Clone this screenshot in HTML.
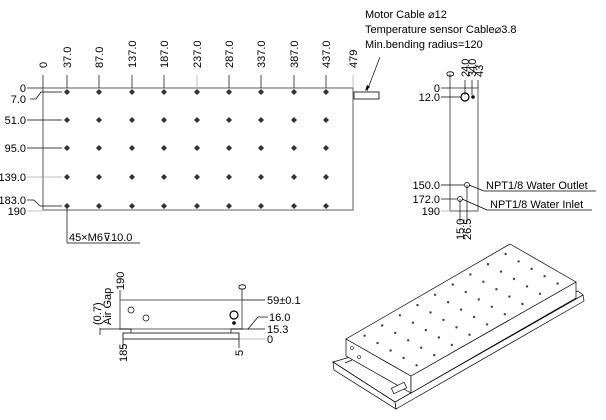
<!DOCTYPE html>
<html><head><meta charset="utf-8"><style>
body{margin:0;background:#fff}
svg{display:block}
text{font-family:"Liberation Sans",sans-serif;font-size:11px;fill:#000}
.k{stroke:#000;stroke-width:0.7;fill:none}
</style></head><body>
<svg width="606" height="420" viewBox="0 0 606 420" xmlns="http://www.w3.org/2000/svg">
<defs>
<g id="dcol" fill="#333">
<path d="M0,89 L3,92 L0,95 L-3,92Z"/>
<path d="M0,117 L3,120 L0,123 L-3,120Z"/>
<path d="M0,145 L3,148 L0,151 L-3,148Z"/>
<path d="M0,174 L3,177 L0,180 L-3,177Z"/>
<path d="M0,203 L3,206 L0,209 L-3,206Z"/>
</g>
<g id="irow" fill="#444">
<circle cx="358.1" cy="332.0" r="1.2"/><circle cx="375.7" cy="321.8" r="1.2"/><circle cx="393.4" cy="311.6" r="1.2"/><circle cx="411.0" cy="301.4" r="1.2"/><circle cx="428.6" cy="291.1" r="1.2"/><circle cx="446.3" cy="280.9" r="1.2"/><circle cx="463.9" cy="270.7" r="1.2"/><circle cx="481.5" cy="260.5" r="1.2"/><circle cx="499.1" cy="250.3" r="1.2"/>
</g>
</defs>
<!-- Top view -->
<rect x="43" y="88" width="310" height="122" fill="none" stroke="#777" stroke-width="1.2"/>
<g class="k">
<line x1="43" y1="75" x2="43" y2="88"/>
<line x1="353" y1="75" x2="353" y2="88" stroke="#aaa"/>
<line x1="27" y1="88" x2="43" y2="88"/>
<line x1="30" y1="99" x2="36" y2="99"/><line x1="36" y1="99" x2="41" y2="92"/><line x1="41" y1="92" x2="62" y2="92"/>
<line x1="27" y1="120" x2="62" y2="120"/>
<line x1="27" y1="148" x2="62" y2="148"/>
<line x1="27" y1="177" x2="62" y2="177" stroke="#aaa"/>
<line x1="27" y1="200" x2="34" y2="200"/><line x1="34" y1="200" x2="40" y2="206"/><line x1="40" y1="206" x2="62" y2="206"/>
<line x1="27" y1="211" x2="42" y2="211" stroke="#aaa"/>
<line x1="67" y1="206" x2="67" y2="243"/><line x1="67" y1="243" x2="140" y2="243"/>
<line x1="67" y1="75" x2="67" y2="88"/><line x1="99" y1="75" x2="99" y2="88"/><line x1="132" y1="75" x2="132" y2="88"/><line x1="164" y1="75" x2="164" y2="88"/><line x1="197" y1="75" x2="197" y2="88" stroke="#aaa"/><line x1="229" y1="75" x2="229" y2="88"/><line x1="261" y1="75" x2="261" y2="88"/><line x1="294" y1="75" x2="294" y2="88"/><line x1="326" y1="75" x2="326" y2="88"/>
</g>
<use href="#dcol" x="67"/><use href="#dcol" x="99"/><use href="#dcol" x="132"/><use href="#dcol" x="164"/><use href="#dcol" x="197"/><use href="#dcol" x="229"/><use href="#dcol" x="261"/><use href="#dcol" x="294"/><use href="#dcol" x="326"/>
<g font-size="11">
<text transform="translate(47,68) rotate(-90)">0</text>
<text transform="translate(71,68) rotate(-90)">37.0</text>
<text transform="translate(103,68) rotate(-90)">87.0</text>
<text transform="translate(136,68) rotate(-90)">137.0</text>
<text transform="translate(168,68) rotate(-90)">187.0</text>
<text transform="translate(201,68) rotate(-90)">237.0</text>
<text transform="translate(233,68) rotate(-90)">287.0</text>
<text transform="translate(265,68) rotate(-90)">337.0</text>
<text transform="translate(298,68) rotate(-90)">387.0</text>
<text transform="translate(330,68) rotate(-90)">437.0</text>
<text transform="translate(357,68) rotate(-90)">479</text>
<text x="26" y="92" text-anchor="end">0</text>
<text x="26" y="103" text-anchor="end">7.0</text>
<text x="26" y="124" text-anchor="end">51.0</text>
<text x="26" y="152" text-anchor="end">95.0</text>
<text x="26" y="181" text-anchor="end">139.0</text>
<text x="26" y="204" text-anchor="end">183.0</text>
<text x="26" y="215" text-anchor="end">190</text>
<text x="69" y="241">45×M6⊽10.0</text>
<text x="365" y="18">Motor Cable ⌀12</text>
<text x="365" y="33">Temperature sensor Cable⌀3.8</text>
<text x="365" y="48">Min.bending radius=120</text>
</g>
<rect x="354" y="92" width="25" height="7" fill="none" stroke="#000" stroke-width="0.8"/>
<line class="k" x1="380" y1="57" x2="367" y2="91"/>
<path d="M365,91 L367,85 L370,87Z" fill="#000"/>
<!-- side view -->
<rect x="450" y="88" width="28" height="123" fill="none" stroke="#777" stroke-width="1.2"/>
<g class="k">
<line x1="450" y1="74" x2="450" y2="88"/><line x1="465" y1="80" x2="465" y2="95"/><line x1="472" y1="80" x2="472" y2="95"/><line x1="478" y1="80" x2="478" y2="88"/>
<line x1="441" y1="88" x2="450" y2="88"/><line x1="441" y1="97" x2="461" y2="97"/>
<line x1="441" y1="185" x2="464" y2="185"/><line x1="441" y1="199" x2="457" y2="199"/><line x1="441" y1="211" x2="450" y2="211" stroke="#aaa"/>
<line x1="460" y1="199" x2="460" y2="222"/><line x1="467" y1="185" x2="467" y2="222"/>
<line x1="469" y1="185" x2="484" y2="191"/><line x1="484" y1="191" x2="596" y2="191"/>
<line x1="462" y1="199" x2="487" y2="210"/><line x1="487" y1="210" x2="592" y2="210"/>
</g>
<circle cx="465" cy="97" r="4" fill="none" stroke="#000" stroke-width="1.2"/>
<circle cx="473" cy="97" r="1.8" fill="#000"/>
<circle cx="467" cy="185" r="2.5" fill="none" stroke="#000" stroke-width="0.7"/>
<circle cx="460" cy="199" r="2.5" fill="none" stroke="#000" stroke-width="0.7"/>
<g font-size="11">
<text transform="translate(454,77) rotate(-90)">0</text>
<text transform="translate(469,77) rotate(-90)" letter-spacing="-1">24.0</text>
<text transform="translate(476,77) rotate(-90)" letter-spacing="-1">34.0</text>
<text transform="translate(483,77) rotate(-90)">43</text>
<text x="440" y="92" text-anchor="end">0</text>
<text x="440" y="101" text-anchor="end">12.0</text>
<text x="440" y="189" text-anchor="end">150.0</text>
<text x="440" y="203" text-anchor="end">172.0</text>
<text x="440" y="215" text-anchor="end">190</text>
<text transform="translate(464,240) rotate(-90)">15.0</text>
<text transform="translate(471,240) rotate(-90)">26.5</text>
<text x="486" y="189">NPT1/8 Water Outlet</text>
<text x="490" y="208">NPT1/8 Water Inlet</text>
</g>
<!-- front view -->
<rect x="120" y="300" width="122" height="29" fill="none" stroke="#777" stroke-width="1.2"/>
<rect x="123" y="333" width="116" height="6" fill="none" stroke="#000" stroke-width="0.8"/>
<g class="k">
<path d="M120,329 L131,329 L131,333"/><path d="M231,333 L231,329 L242,329"/>
<line x1="120" y1="290" x2="120" y2="300"/><line x1="242" y1="290" x2="242" y2="300"/>
<line x1="242" y1="300" x2="265" y2="300"/>
<line x1="248" y1="329" x2="258" y2="317"/><line x1="258" y1="317" x2="268" y2="317"/>
<line x1="242" y1="329" x2="265" y2="329"/>
<line x1="239" y1="339" x2="265" y2="339" stroke="#aaa"/>
<line x1="123" y1="339" x2="123" y2="348"/><line x1="239" y1="339" x2="239" y2="348"/>
<line x1="100" y1="329" x2="120" y2="329"/><line x1="100" y1="328" x2="100" y2="335"/>
</g>
<circle cx="131" cy="310" r="3" fill="none" stroke="#000" stroke-width="0.7"/>
<circle cx="146" cy="318" r="3" fill="none" stroke="#000" stroke-width="0.7"/>
<circle cx="234" cy="315" r="4" fill="none" stroke="#000" stroke-width="1.2"/>
<circle cx="234" cy="323" r="1.8" fill="#000"/>
<g font-size="11">
<text transform="translate(124,290) rotate(-90)">190</text>
<text transform="translate(246,290) rotate(-90)">0</text>
<text transform="translate(101,325) rotate(-90)">(0.7)</text>
<text transform="translate(111,325) rotate(-90)">Air Gap</text>
<text x="267" y="304">59±0.1</text>
<text x="269" y="321">16.0</text>
<text x="267" y="333">15.3</text>
<text x="267" y="343">0</text>
<text transform="translate(127,362) rotate(-90)">185</text>
<text transform="translate(243,356) rotate(-90)">5</text>
</g>
<!-- iso view -->
<g class="k" stroke-width="0.8">
<polygon points="333,362 395,402 583,295 578,291" fill="#fff"/>
<polygon points="333,362 334,370 396,409 395,402"/>
<polygon points="395,402 396,409 584,301 583,295"/>
<polygon points="346,339 346,356 411,393 411,376" fill="#fff"/>
<polygon points="411,376 411,393 576,298 576,282" fill="#fff"/>
<polygon points="346,339 411,376 576,282 510,244" fill="#fff"/>
<line x1="345" y1="363" x2="352" y2="360"/>
<rect x="392" y="385" width="14" height="6" transform="rotate(-25 399 388)" fill="#fff"/>
</g>
<circle cx="352" cy="348" r="1.5" fill="none" stroke="#000" stroke-width="0.6"/>
<circle cx="359" cy="357" r="1.5" fill="none" stroke="#000" stroke-width="0.6"/>
<use href="#irow" x="6.5" y="3.7"/>
<use href="#irow" x="19.5" y="11.1"/>
<use href="#irow" x="32.5" y="18.5"/>
<use href="#irow" x="45.5" y="25.9"/>
<use href="#irow" x="58.5" y="33.3"/>
</svg>
</body></html>
